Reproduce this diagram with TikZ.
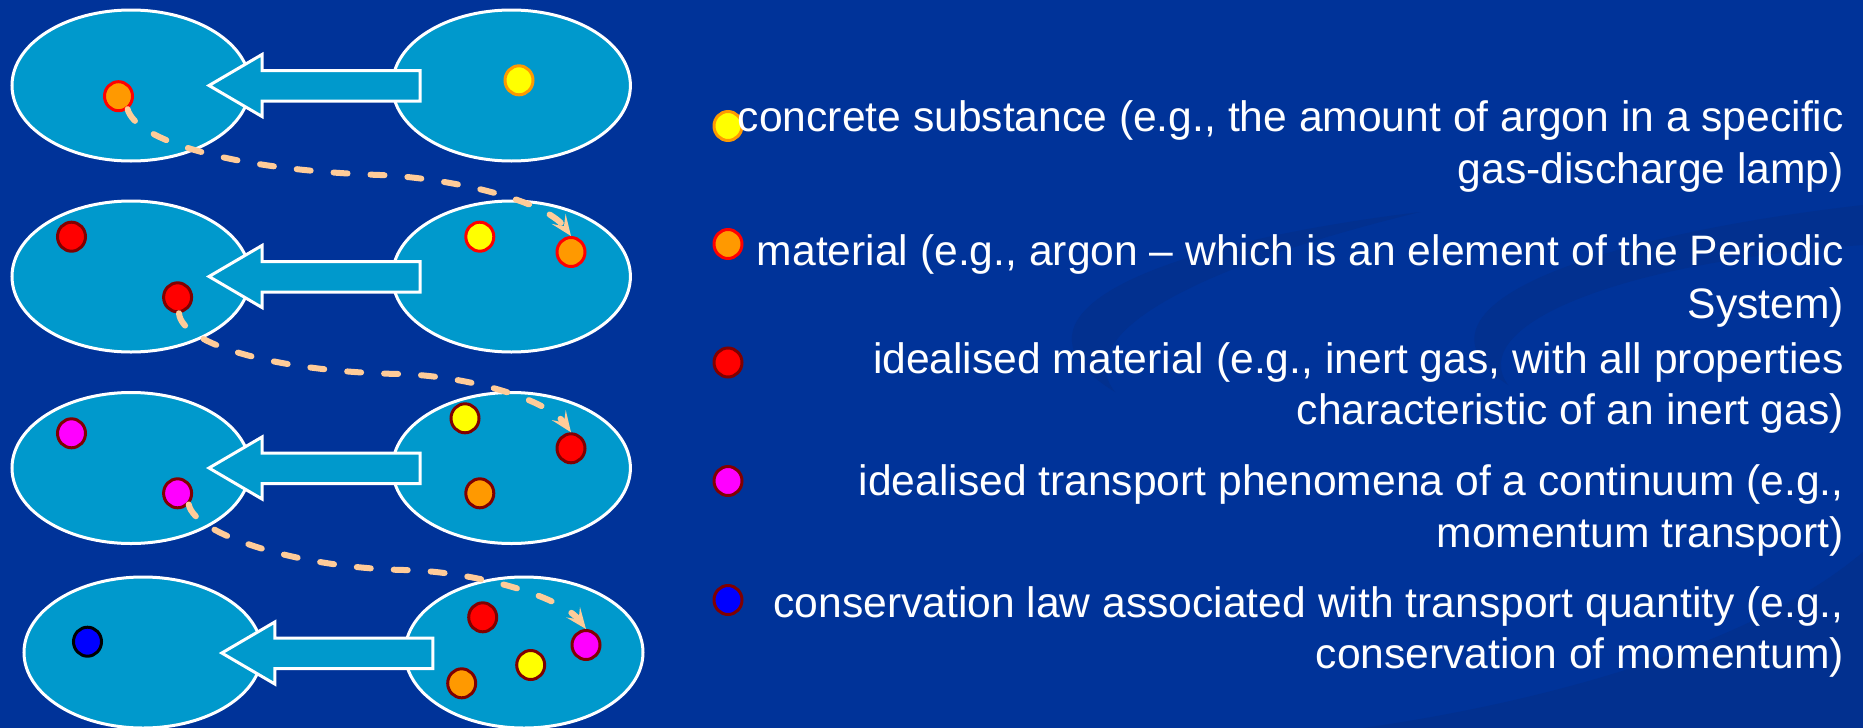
\documentclass[tikz,border=0pt]{standalone}
\usepackage{fontspec}
\setmainfont{Liberation Sans}
\usetikzlibrary{arrows.meta,shapes.geometric}
\definecolor{bg}{HTML}{003399}
\definecolor{swirl}{HTML}{02308F}
\definecolor{cell}{HTML}{0099CC}
\definecolor{peach}{HTML}{FFCC99}
\definecolor{dkred}{HTML}{800000}
\definecolor{orng}{HTML}{FF9900}
\definecolor{yel}{HTML}{FFFF00}
\definecolor{rd}{HTML}{FF0000}
\definecolor{mag}{HTML}{FF00FF}
\definecolor{blu}{HTML}{0000FF}
\frenchspacing
\begin{document}
\begin{tikzpicture}[x=1pt,y=-1pt,
  bigell/.style={ellipse, draw=white, line width=3pt, fill=cell, minimum width=238pt, minimum height=151pt, inner sep=0pt},
  blk/.style={draw=white, line width=3pt, fill=cell, line join=miter},
  dot/.style={ellipse, line width=3pt, minimum width=28pt, minimum height=29pt, inner sep=0pt},
  ydot/.style={dot, fill=yel},
  odot/.style={dot, fill=orng},
  rdot/.style={dot, fill=rd},
  mdot/.style={dot, fill=mag},
  bdot/.style={dot, fill=blu},
  link/.style={draw=peach, line width=6pt, line cap=round, dash pattern=on 14pt off 23pt,
    -{Stealth[length=21pt, width=17pt, inset=9pt, line cap=round]}},
  txt/.style={anchor=base east, inner sep=0pt, text=white, font=\fontsize{42.6}{51}\selectfont}
]
\useasboundingbox (0,0) rectangle (1863,728);
\fill[bg] (0,0) rectangle (1863,728);
% faint background swirls
\fill[swirl] (1420,212) .. controls (1150,245) and (990,315) .. (1115,392)
  .. controls (1070,335) and (1190,268) .. (1420,212) -- cycle;
\fill[swirl] (1863,205) .. controls (1600,235) and (1390,305) .. (1508,385)
  .. controls (1465,325) and (1620,262) .. (1863,245) -- cycle;
\fill[swirl] (1863,552) .. controls (1760,640) and (1560,700) .. (1363,728) -- (1863,728) -- cycle;

% ellipses
\node[bigell] (L1) at (131,85.5) {};
\node[bigell] (R1) at (511.4,85.5) {};
\node[bigell] (L2) at (131,276.5) {};
\node[bigell] (R2) at (511.4,276.5) {};
\node[bigell] (L3) at (131,468) {};
\node[bigell] (R3) at (511.4,468) {};
\node[bigell] (L4) at (143,652.5) {};
\node[bigell] (R4) at (524,652.5) {};

% block arrows
\newcommand\blockarrow[2]{\draw[blk] (#1,#2) -- ++(53,-31) -- ++(0,16) -- ++(158,0) -- ++(0,30.5) -- ++(-158,0) -- ++(0,15.5) -- cycle;}
\blockarrow{209}{85.5}
\blockarrow{209}{276.5}
\blockarrow{209}{468}
\blockarrow{221.8}{653}

% dots row 1
\node[odot, draw=rd] (a1) at (118.5,96.2) {};
\node[ydot, draw=orng] (a2) at (519,80.3) {};
% row 2
\node[rdot, draw=dkred] (b1) at (71.5,236.7) {};
\node[rdot, draw=dkred] (b2) at (177.6,297.3) {};
\node[ydot, draw=rd] (b3) at (479.8,236.7) {};
\node[odot, draw=rd] (b4) at (571,252) {};
% row 3
\node[mdot, draw=dkred] (c1) at (71.5,433.3) {};
\node[mdot, draw=dkred] (c2) at (177.6,493.3) {};
\node[ydot, draw=dkred] (c3) at (465,418.3) {};
\node[rdot, draw=dkred] (c4) at (571,448.3) {};
\node[odot, draw=dkred] (c5) at (479.8,493.3) {};
% row 4
\node[bdot, draw=black] (d1) at (87.5,641.7) {};
\node[rdot, draw=dkred] (d2) at (482.7,617.3) {};
\node[mdot, draw=dkred] (d3) at (586,645) {};
\node[ydot, draw=dkred] (d4) at (530.7,665) {};
\node[odot, draw=dkred] (d5) at (461.7,683.3) {};

% dashed links
\coordinate (m1) at (380,175);
\coordinate (m2) at (400,374);
\coordinate (m3) at (404,570);
\draw[link] (a1.-55) .. controls (136,140) and (230,170) .. (m1)
  .. controls (450,178) and (545,200) .. (b4.north);
\draw[link] (b2.-85) .. controls (182,345) and (280,372) .. (m2)
  .. controls (470,376) and (548,400) .. (c4.north);
\draw[link] (c2.-45) .. controls (195,535) and (300,568) .. (m3)
  .. controls (470,571) and (560,595) .. (d3.north);

% legend bullets
\node[ydot, draw=orng] (k1) at (728,126) {};
\node[odot, draw=rd] (k2) at (728,244) {};
\node[rdot, draw=dkred] (k3) at (728,362.5) {};
\node[mdot, draw=dkred] (k4) at (728,481) {};
\node[bdot, draw=dkred] (k5) at (728,600) {};

% legend text
\node[txt] (t1) at (1844,131) {concrete substance (e.g., the amount of argon in a specific};
\node[txt] (t2) at (1844,183) {gas-discharge lamp)};
\node[txt] (t3) at (1844,265) {material (e.g., argon – which is an element of the Periodic};
\node[txt] (t4) at (1844,318) {System)};
\node[txt] (t5) at (1844,373) {idealised material (e.g., inert gas, with all properties};
\node[txt] (t6) at (1844,424) {characteristic of an inert gas)};
\node[txt] (t7) at (1844,495) {idealised transport phenomena of a continuum (e.g.,};
\node[txt] (t8) at (1844,547) {momentum transport)};
\node[txt] (t9) at (1844,617) {conservation law associated with transport quantity (e.g.,};
\node[txt] (t10) at (1844,668) {conservation of momentum)};
\end{tikzpicture}
\end{document}
